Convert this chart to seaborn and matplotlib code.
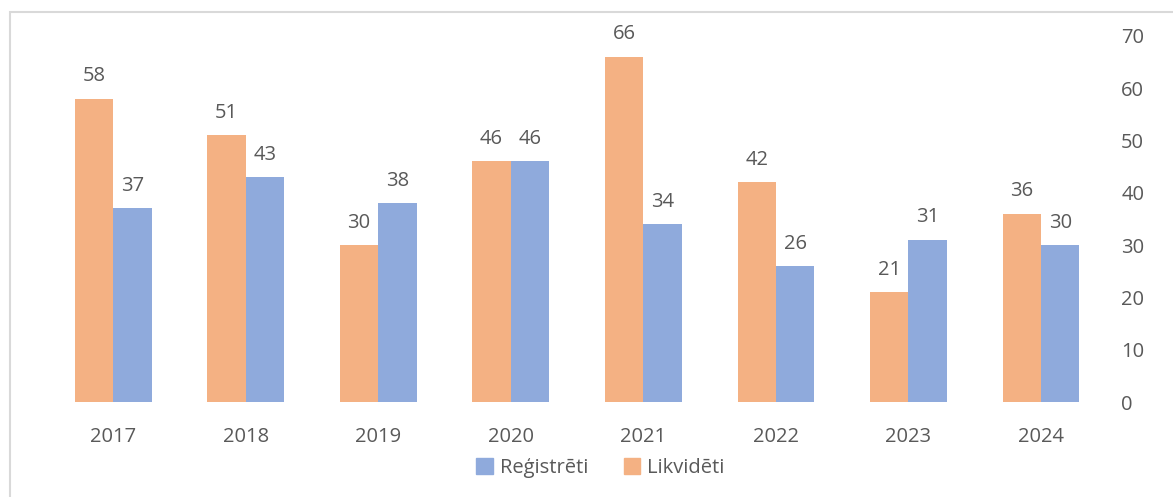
import matplotlib
matplotlib.use("Agg")
import matplotlib.pyplot as plt
import matplotlib.patches as mpatches
import pandas as pd
import seaborn as sns

years = ["2017", "2018", "2019", "2020", "2021", "2022", "2023", "2024"]
likvideti = [58, 51, 30, 46, 66, 42, 21, 36]
registreti = [37, 43, 38, 46, 34, 26, 31, 30]

ORANGE = "#F4B183"
BLUE = "#8FAADC"
GREY = "#595959"

df = pd.DataFrame({
    "year": years * 2,
    "value": likvideti + registreti,
    "series": ["Likvidēti"] * len(years) + ["Reģistrēti"] * len(years),
})

sns.set_style("white")
plt.rcParams["font.family"] = ["Open Sans", "DejaVu Sans"]

fig = plt.figure(figsize=(11.73, 4.97), dpi=100)
ax = fig.add_axes([0.040, 0.191, 0.904, 0.737])

sns.barplot(
    data=df, x="year", y="value", hue="series",
    hue_order=["Likvidēti", "Reģistrēti"],
    palette=[ORANGE, BLUE], width=0.58, saturation=1,
    linewidth=0, ax=ax, legend=False,
)

for cont in ax.containers:
    ax.bar_label(cont, padding=9, fontsize=14.5, color=GREY)

ax.set_ylim(0, 70)
ax.set_xlim(-0.5, 7.5)
ax.yaxis.tick_right()
ax.set_yticks(range(0, 71, 10))
ax.tick_params(axis="y", labelsize=14.5, colors=GREY, length=0, pad=10)
ax.tick_params(axis="x", labelsize=14.5, colors=GREY, length=0, pad=18)
ax.set_xlabel("")
ax.set_ylabel("")
for s in ax.spines.values():
    s.set_visible(False)

handles = [mpatches.Patch(color=BLUE, label="Reģistrēti"),
           mpatches.Patch(color=ORANGE, label="Likvidēti")]
fig.legend(handles=handles, loc="center", bbox_to_anchor=(0.512, 0.058),
           ncol=2, frameon=False, fontsize=14.5, labelcolor=GREY,
           handlelength=0.8, handleheight=0.8, handletextpad=0.35, columnspacing=1.8)

# chart frame
fig.patches.append(mpatches.Rectangle((0.0085, -0.1), 1.2, 1.076, transform=fig.transFigure,
                                      fill=False, edgecolor="#D9D9D9", linewidth=1.5))

fig.savefig("out.png", dpi=100)
